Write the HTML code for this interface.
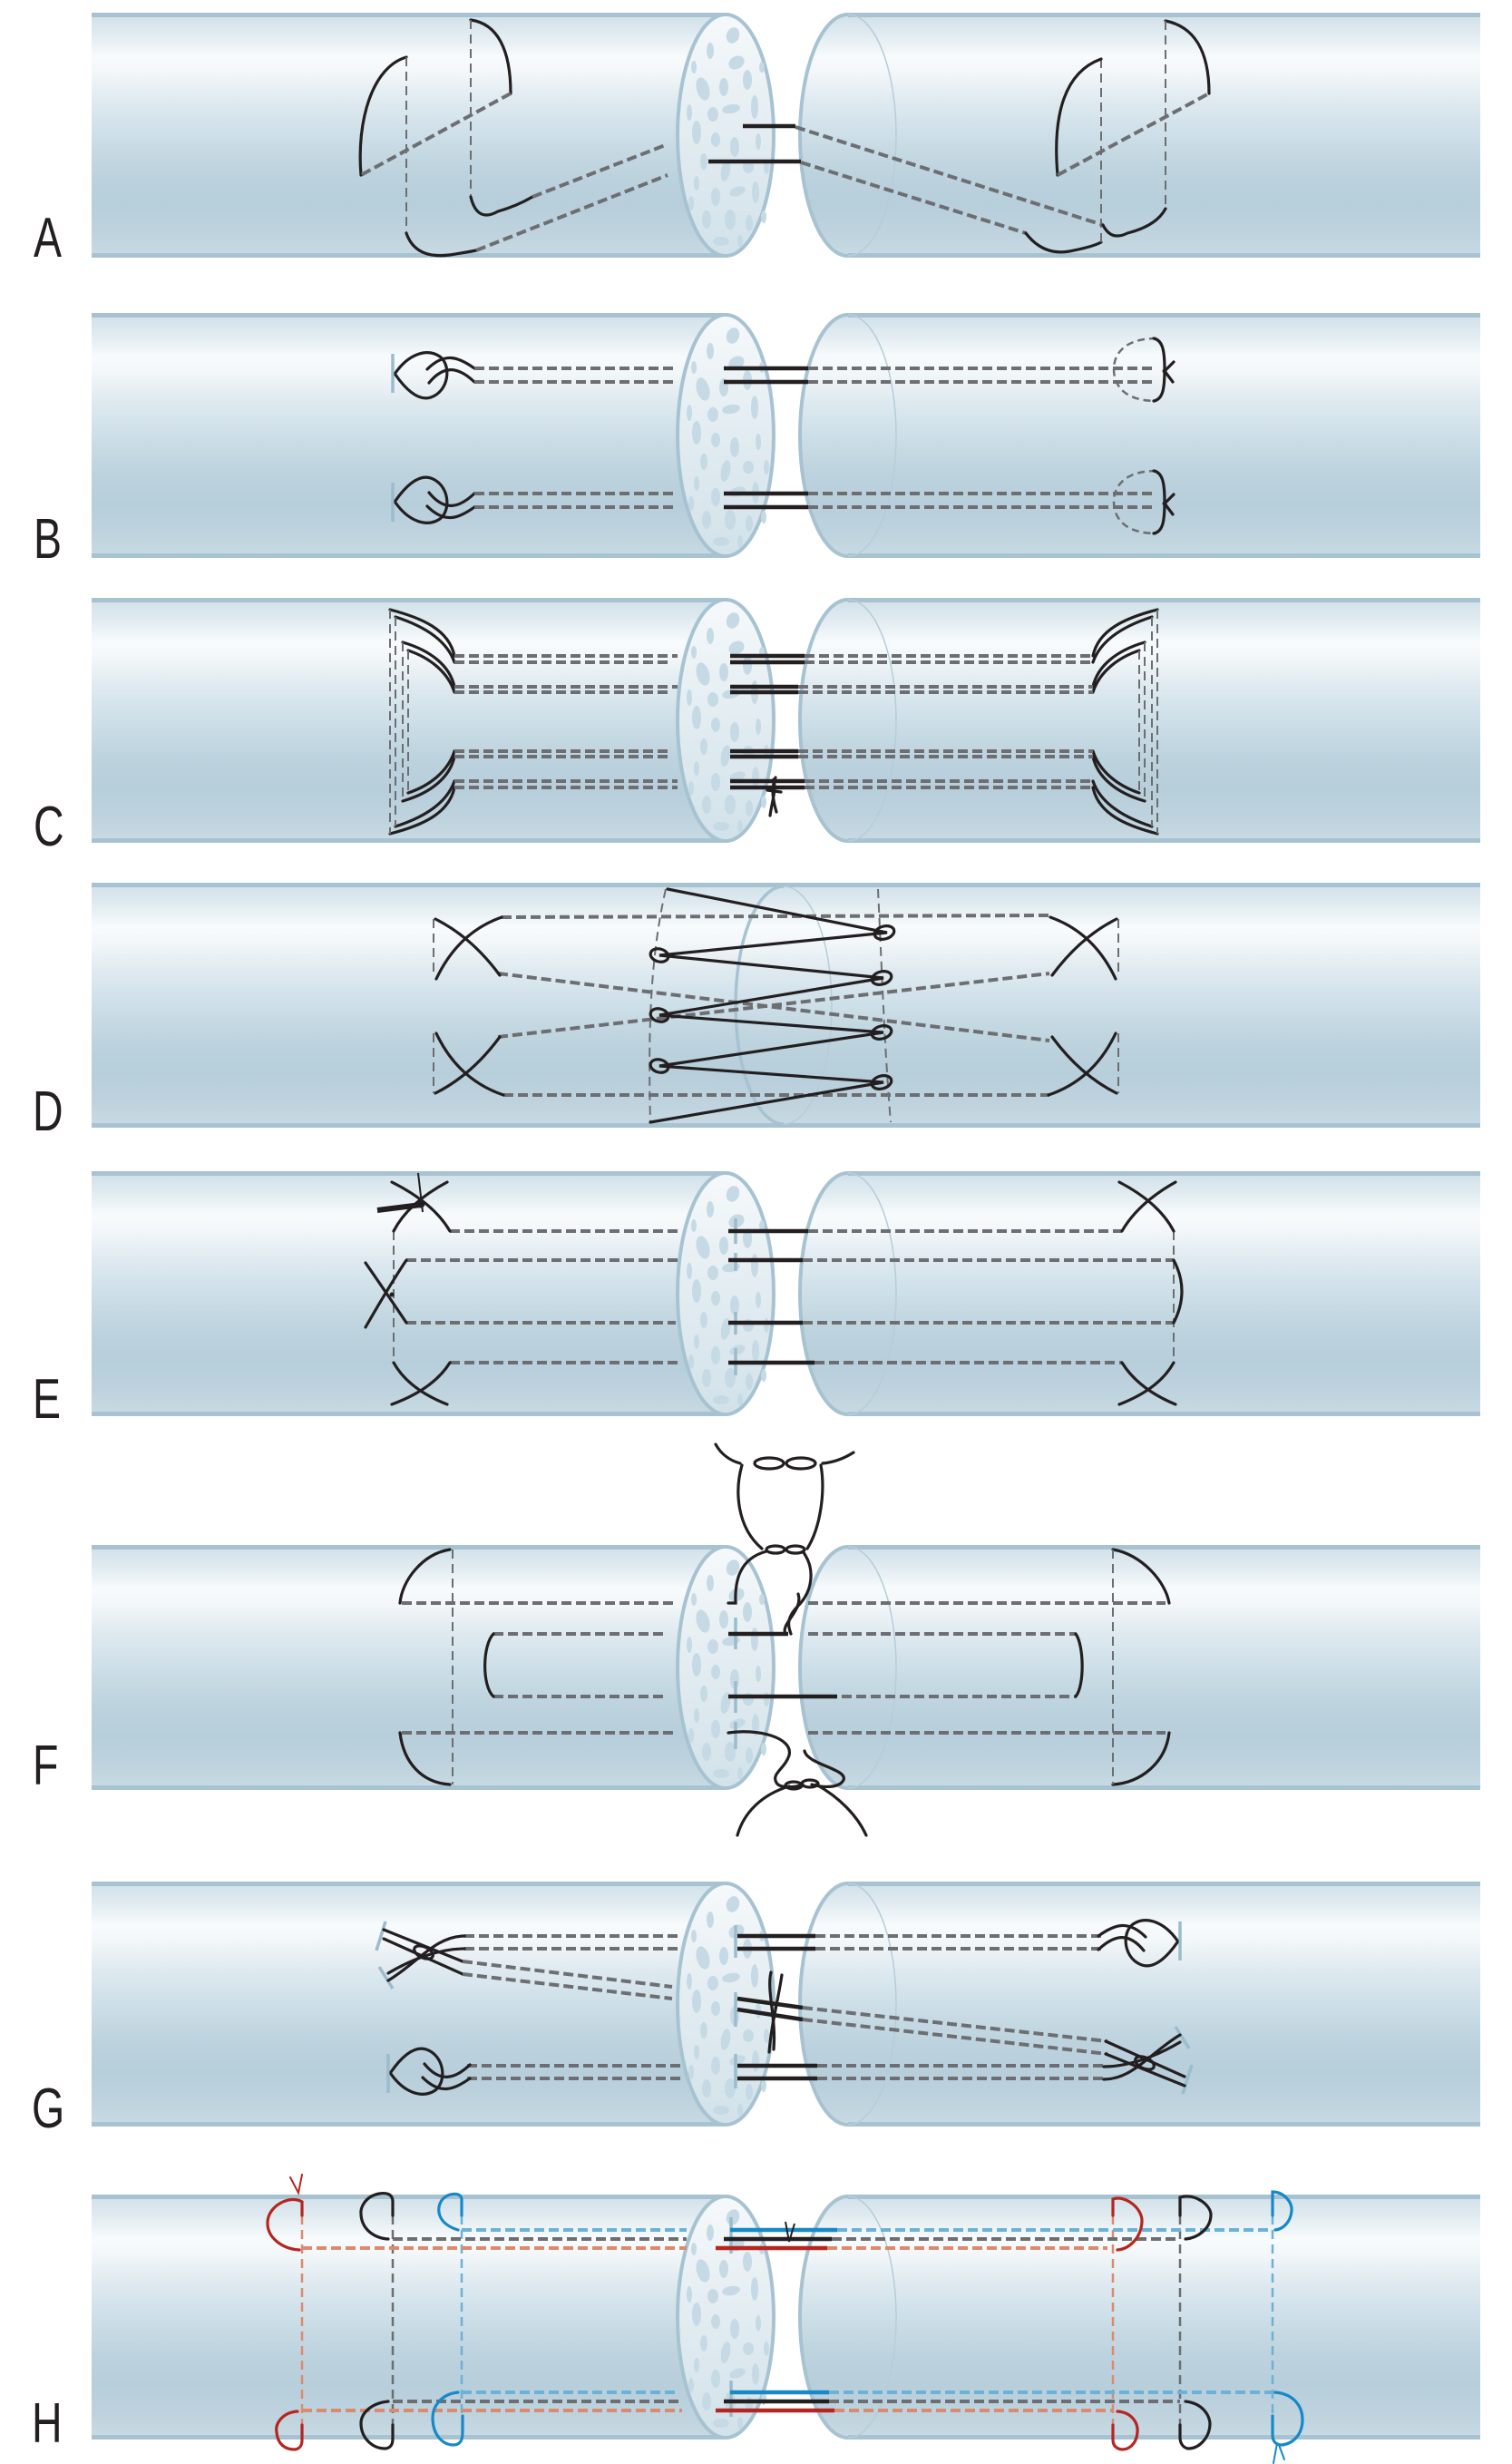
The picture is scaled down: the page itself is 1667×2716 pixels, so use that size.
<!DOCTYPE html>
<html>
<head>
<meta charset="utf-8">
<style>
  html,body{margin:0;padding:0;background:#fff;}
  body{width:1667px;height:2716px;overflow:hidden;}
  svg{display:block;}
  .s{stroke:#231f20;stroke-width:3.2;fill:none;stroke-linecap:round;}
  .sb{stroke:#231f20;stroke-width:4.5;fill:none;}
  .d{stroke:#6d6e71;stroke-width:4;stroke-dasharray:11 5;fill:none;}
  .dt{stroke:#6d6e71;stroke-width:2;stroke-dasharray:10 6;fill:none;}
  .tick{stroke:#9bbccc;stroke-width:3.5;fill:none;}
  .lbl{font-family:"Liberation Sans",sans-serif;font-size:62px;fill:#231f20;}
</style>
</head>
<body>
<svg width="1667" height="2716" viewBox="0 0 1667 2716" xmlns="http://www.w3.org/2000/svg">
<defs>
  <linearGradient id="body" x1="0" y1="0" x2="0" y2="1">
    <stop offset="0" stop-color="#cfdfe8"/>
    <stop offset="0.1" stop-color="#e3edf2"/>
    <stop offset="0.18" stop-color="#f8fbfc"/>
    <stop offset="0.24" stop-color="#f3f7f9"/>
    <stop offset="0.36" stop-color="#dfeaf0"/>
    <stop offset="0.5" stop-color="#cddfe8"/>
    <stop offset="0.65" stop-color="#bdd3de"/>
    <stop offset="0.78" stop-color="#b7cedb"/>
    <stop offset="0.9" stop-color="#bed3de"/>
    <stop offset="1" stop-color="#c9dbe4"/>
  </linearGradient>
  <linearGradient id="face" x1="0" y1="0" x2="0" y2="1">
    <stop offset="0" stop-color="#f6f9fb"/>
    <stop offset="0.5" stop-color="#e2ecf1"/>
    <stop offset="1" stop-color="#d2e2ea"/>
  </linearGradient>
  <g id="blobs" fill="#c5dae4">
    <ellipse cx="808" cy="25" rx="7" ry="9" transform="rotate(20 808 25)"/>
    <ellipse cx="783" cy="42" rx="4" ry="9"/>
    <ellipse cx="812" cy="55" rx="9" ry="7" transform="rotate(-30 812 55)"/>
    <ellipse cx="775" cy="84" rx="7" ry="13" transform="rotate(-15 775 84)"/>
    <ellipse cx="798" cy="82" rx="5" ry="10"/>
    <ellipse cx="824" cy="74" rx="5" ry="11"/>
    <ellipse cx="786" cy="112" rx="6" ry="8"/>
    <ellipse cx="806" cy="106" rx="10" ry="5" transform="rotate(-10 806 106)"/>
    <ellipse cx="832" cy="104" rx="4" ry="13"/>
    <ellipse cx="768" cy="132" rx="5" ry="13"/>
    <ellipse cx="789" cy="140" rx="5" ry="8"/>
    <ellipse cx="810" cy="148" rx="5" ry="11"/>
    <ellipse cx="836" cy="142" rx="3" ry="9"/>
    <ellipse cx="776" cy="164" rx="4" ry="9"/>
    <ellipse cx="800" cy="174" rx="5" ry="12" transform="rotate(10 800 174)"/>
    <ellipse cx="825" cy="170" rx="6" ry="7"/>
    <ellipse cx="768" cy="188" rx="3" ry="8"/>
    <ellipse cx="789" cy="203" rx="5" ry="10"/>
    <ellipse cx="813" cy="197" rx="9" ry="5" transform="rotate(-20 813 197)"/>
    <ellipse cx="833" cy="198" rx="4" ry="12"/>
    <ellipse cx="779" cy="228" rx="5" ry="10"/>
    <ellipse cx="805" cy="228" rx="6" ry="11"/>
    <ellipse cx="826" cy="232" rx="4" ry="9"/>
    <ellipse cx="795" cy="252" rx="9" ry="5"/>
    <ellipse cx="816" cy="252" rx="3" ry="7"/>
    <ellipse cx="765" cy="60" rx="3" ry="7"/>
    <ellipse cx="840" cy="60" rx="3" ry="6"/>
    <ellipse cx="760" cy="110" rx="3" ry="9"/>
    <ellipse cx="845" cy="170" rx="3" ry="8"/>
    <ellipse cx="762" cy="210" rx="3" ry="8"/>
    <ellipse cx="842" cy="225" rx="3" ry="7"/>
  </g>
  <g id="cyl">
    <rect x="101" y="0" width="700" height="270" fill="url(#body)"/>
    <rect x="101" y="0" width="700" height="5" fill="#a7c3d2"/>
    <rect x="101" y="265" width="700" height="5" fill="#a7c3d2"/>
    <path d="M935,0 H1632 V270 H935 A53,135 0 0 1 935,0 Z" fill="url(#body)"/>
    <rect x="935" y="0" width="697" height="5" fill="#a7c3d2"/>
    <rect x="935" y="265" width="697" height="5" fill="#a7c3d2"/>
    <path d="M935,268 A53,133 0 0 1 935,2" fill="none" stroke="#a7c3d2" stroke-width="4"/>
    <path d="M935,2 A53,133 0 0 1 935,268" fill="none" stroke="#b6cdd9" stroke-width="1.5"/>
    <ellipse cx="800" cy="135" rx="53" ry="133" fill="url(#face)" stroke="#a7c3d2" stroke-width="4"/>
    <use href="#blobs"/>
  </g>
  <g id="kb">
    <path class="tick" d="M433,45 V88"/>
    <path class="s" d="M436,66 C450,46 470,38 485,48 C498,58 495,86 475,93 C460,98 445,81 436,68"/>
    <path class="s" d="M523,61 C505,48 490,43 471,62"/>
    <path class="s" d="M523,76 C506,60 490,56 473,77"/>
  </g>
  <g id="rb">
    <path d="M1275,28 C1240,28 1228,45 1228,62 C1228,80 1240,97 1275,97" fill="none" stroke="#6d6e71" stroke-width="2.5" stroke-dasharray="8 5"/>
    <path class="s" d="M1272,28 C1282,30 1284,42 1284,62 C1284,84 1282,95 1272,97"/>
    <path class="s" stroke-width="2" d="M1284,64 L1294,54 M1284,64 L1293,76"/>
    <circle cx="1284" cy="64" r="2.5" fill="#231f20"/>
  </g>
  <g id="cx">
    <path class="tick" d="M425,44 L415,76 M418,94 L433,118"/>
    <path class="s" d="M423,53 L510,88 M423,63 L510,102"/>
    <path class="s" d="M428,109 C460,90 480,60 512,60"/>
    <path class="s" d="M428,101 C455,85 485,74 512,74"/>
    <ellipse cx="467" cy="78" rx="11" ry="6" transform="rotate(25 467 78)" class="s"/>
  </g>
  <g id="carcs">
    <path class="s" d="M430,13 C465,22 495,35 501,64"/>
    <path class="s" d="M436,21 C464,30 492,45 501,71"/>
    <path class="s" d="M444,49 C475,58 496,75 501,98"/>
    <path class="s" d="M450,58 C474,66 494,82 501,104"/>
  </g>
  <g id="cside">
    <use href="#carcs"/>
    <use href="#carcs" transform="translate(0,273) scale(1,-1)"/>
    <path class="dt" d="M430,13 V260 M436,21 V252 M444,49 V224 M450,58 V215"/>
  </g>
</defs>

<!-- ================= A ================= -->
<g transform="translate(0,14)">
  <use href="#cyl"/>
  <path class="s" d="M448,49 C410,60 393,120 398,179"/>
  <path class="dt" d="M448,49 V243"/>
  <path class="s" d="M448,243 Q458,272 496,267 Q515,264 525,262"/>
  <path class="d" d="M525,262 L736,179"/>
  <path class="s" d="M519,8 C548,12 563,40 563,89"/>
  <path class="d" d="M563,89 L398,179"/>
  <path class="dt" d="M519,8 V203"/>
  <path class="s" d="M519,203 Q526,232 549,219 Q570,213 587,203"/>
  <path class="d" d="M587,203 L736,145"/>
  <path class="sb" d="M819,125 H877 M781,164 H883"/>
  <path class="d" d="M877,126 L1216,234 M883,165 L1131,243"/>
  <path class="s" d="M1131,243 Q1150,268 1179,263 Q1205,258 1214,253"/>
  <path class="dt" d="M1214,51 V253"/>
  <path class="s" d="M1214,51 C1175,65 1160,110 1166,179"/>
  <path class="d" d="M1166,179 L1333,89"/>
  <path class="s" d="M1285,9 C1315,15 1333,40 1333,89"/>
  <path class="dt" d="M1285,9 V216"/>
  <path class="s" d="M1216,234 Q1225,252 1243,243 Q1275,235 1285,216"/>
</g>

<!-- ================= B ================= -->
<g transform="translate(0,345)">
  <use href="#cyl"/>
  <use href="#kb"/>
  <use href="#kb" transform="translate(0,275) scale(1,-1)"/>
  <path class="d" d="M523,61 H747 M523,76 H747 M523,199 H747 M523,214 H747"/>
  <path class="sb" d="M798,61 H891 M798,76 H891 M798,199 H891 M798,214 H891"/>
  <path class="d" d="M891,61 H1275 M891,76 H1275 M891,199 H1275 M891,214 H1275"/>
  <use href="#rb"/>
  <use href="#rb" transform="translate(0,146)"/>
</g>

<!-- ================= C ================= -->
<g transform="translate(0,659)">
  <use href="#cyl"/>
  <use href="#cside"/>
  <use href="#cside" transform="translate(1706,0) scale(-1,1)"/>
  <path class="d" d="M501,64 H747 M501,71 H740 M501,98 H747 M501,104 H740 M501,169 H740 M501,175 H740 M501,202 H747 M501,209 H747"/>
  <path class="sb" stroke-width="4" d="M805,64 H887 M805,71 H887 M805,98 H880 M805,104 H880 M805,169 H880 M805,175 H880 M805,202 H887 M805,209 H887"/>
  <path class="d" d="M887,64 H1205 M887,71 H1205 M880,98 H1205 M880,104 H1205 M880,169 H1205 M880,175 H1205 M887,202 H1205 M887,209 H1205"/>
  <path class="s" stroke-width="2" d="M849,240 C851,225 856,212 853,200 M856,236 C852,222 850,210 855,198 M846,212 L861,214"/>
</g>

<!-- ================= D ================= -->
<g transform="translate(0,973)">
  <rect x="101" y="0" width="1531" height="270" fill="url(#body)"/>
  <rect x="101" y="0" width="1531" height="5" fill="#a7c3d2"/>
  <rect x="101" y="265" width="1531" height="5" fill="#a7c3d2"/>
  <path d="M864,266 A53,131 0 0 1 864,4" fill="none" stroke="#a7c3d2" stroke-width="3.5"/>
  <path d="M864,4 A53,131 0 0 1 864,266" fill="none" stroke="#b6cdd9" stroke-width="1.5"/>
  <path class="dt" d="M734,7 C715,90 715,180 717,264"/>
  <path class="dt" d="M968,7 C972,90 975,180 982,264"/>
  <path class="d" d="M553,38 L1157,36 M555,234 H1157 M549,100 L1157,174 M549,170 L1157,100"/>
  <g id="dx">
    <path class="s" d="M480,40 Q520,60 551,102"/>
    <path class="s" d="M553,38 Q505,55 481,106"/>
    <path class="dt" d="M478,40 V104"/>
    <path class="s" d="M480,232 Q520,212 551,170"/>
    <path class="s" d="M555,234 Q505,217 481,166"/>
    <path class="dt" d="M478,166 V232"/>
  </g>
  <use href="#dx" transform="translate(1711,0) scale(-1,1)"/>
  <path class="s" stroke-width="4" d="M736,7 L978,55 L727,80 L974,105 L727,146 L974,165 L727,202 L974,220 L717,264"/>
  <g class="s" stroke-width="3">
    <ellipse cx="975" cy="55" rx="11" ry="7" transform="rotate(-15 975 55)"/>
    <ellipse cx="727" cy="80" rx="10" ry="7" transform="rotate(15 727 80)"/>
    <ellipse cx="972" cy="105" rx="11" ry="7" transform="rotate(-15 972 105)"/>
    <ellipse cx="727" cy="146" rx="10" ry="7" transform="rotate(15 727 146)"/>
    <ellipse cx="972" cy="165" rx="11" ry="7" transform="rotate(-15 972 165)"/>
    <ellipse cx="727" cy="202" rx="10" ry="7" transform="rotate(15 727 202)"/>
    <ellipse cx="972" cy="220" rx="11" ry="7" transform="rotate(-15 972 220)"/>
  </g>
</g>

<!-- ================= E ================= -->
<g transform="translate(0,1291)">
  <use href="#cyl"/>
  <path class="tick" d="M811,52 V80 M811,90 V110 M811,155 V180 M811,195 V225"/>
  <path class="d" d="M496,66 H747 M448,98 H747 M448,167 H745 M496,211 H750"/>
  <path class="sb" d="M803,66 H891 M803,98 H885 M803,167 H885 M803,211 H898"/>
  <path class="d" d="M891,66 H1237 M885,98 H1294 M885,167 H1294 M898,211 H1237"/>
  <path class="dt" d="M434,66 V211 M1294,66 V211"/>
  <path class="s" d="M434,66 Q450,35 493,12 M496,66 Q478,35 432,12"/>
  <path d="M416,43 L464,37" stroke="#231f20" stroke-width="6" fill="none"/>
  <path d="M461,2 L466,45" stroke="#231f20" stroke-width="2" fill="none"/>
  <circle cx="464" cy="36" r="4.5" fill="#231f20"/>
  <path class="s" d="M448,98 Q430,125 403,172 M403,101 Q430,140 448,167"/>
  <circle cx="432" cy="136" r="2.5" fill="#231f20"/>
  <path class="s" d="M434,211 Q450,240 493,257 M496,211 Q478,240 432,257"/>
  <path class="s" d="M1294,66 Q1278,35 1234,12 M1237,66 Q1255,35 1296,12"/>
  <path class="s" d="M1294,98 Q1312,132 1294,167"/>
  <path class="s" d="M1294,211 Q1278,240 1234,257 M1237,211 Q1255,240 1296,257"/>
</g>

<!-- ================= F ================= -->
<g transform="translate(0,1703)">
  <use href="#cyl"/>
  <path class="tick" d="M811,80 V115 M811,150 V185 M811,195 V225"/>
  <path class="d" d="M443,64 H747 M544,98 H736 M544,167 H736 M443,207 H747"/>
  <path class="sb" d="M803,98 H869 M803,167 H923"/>
  <path class="d" d="M891,64 H1285 M891,98 H1186 M928,167 H1186 M891,207 H1285"/>
  <path class="s" d="M496,5 C465,10 443,40 441,64"/>
  <path class="s" d="M441,207 C445,240 465,262 496,264"/>
  <path class="dt" d="M499,5 V264"/>
  <path class="s" d="M544,98 C532,110 531,155 544,167"/>
  <path class="s" d="M1227,5 C1258,10 1285,40 1289,64"/>
  <path class="s" d="M1289,207 C1285,240 1258,262 1227,264"/>
  <path class="dt" d="M1227,5 V264"/>
  <path class="s" d="M1186,98 C1195,110 1196,155 1186,167"/>
  <!-- top loop -->
  <g class="s" stroke-width="2.8">
    <path d="M789,-111 C795,-100 805,-93 816,-90"/>
    <path d="M941,-102 C930,-95 918,-91 907,-90"/>
    <ellipse cx="848" cy="-90" rx="16" ry="6"/>
    <ellipse cx="883" cy="-90" rx="16" ry="6"/>
    <path d="M818,-88 C810,-60 812,-20 840,4"/>
    <path d="M905,-88 C910,-60 905,-20 890,4"/>
    <ellipse cx="855" cy="5" rx="10" ry="4"/>
    <ellipse cx="877" cy="5" rx="10" ry="4"/>
    <path d="M845,7 C815,15 810,40 811,64 L803,64"/>
    <path d="M885,7 C900,27 895,52 880,67 C865,82 870,92 872,98"/>
    <path d="M880,54 C886,72 860,87 866,98"/>
    <!-- bottom loop -->
    <path d="M803,207 C835,202 875,212 870,232 C865,247 850,252 856,262 C860,269 878,267 885,264"/>
    <path d="M887,227 C890,242 935,247 930,259 C925,269 905,267 895,264"/>
    <ellipse cx="875" cy="265" rx="9" ry="4"/>
    <ellipse cx="893" cy="263" rx="9" ry="4"/>
    <path d="M870,266 C840,275 820,295 813,320"/>
    <path d="M900,264 C925,278 945,298 955,320"/>
  </g>
</g>

<!-- ================= G ================= -->
<g transform="translate(0,2074)">
  <use href="#cyl"/>
  <path class="tick" d="M811,48 V84 M811,122 V160 M811,190 V228"/>
  <path class="d" d="M512,60 H747 M512,74 H747"/>
  <path class="sb" d="M813,60 H899 M813,74 H899"/>
  <path class="d" d="M899,60 H1216 M899,74 H1216"/>
  <use href="#kb" transform="translate(1734,-1) scale(-1,1)"/>
  <use href="#cx"/>
  <path class="d" d="M510,88 L741,116 M510,102 L741,129"/>
  <path class="sb" d="M813,129 L885,139 M813,141 L885,152"/>
  <path class="d" d="M885,139 L1221,176 M885,152 L1221,190"/>
  <path class="s" stroke-width="2" d="M848,188 C850,160 858,130 862,103 M853,185 C856,150 845,120 850,100"/>
  <path class="d" d="M515,203 H752 M515,217 H752"/>
  <path class="sb" d="M813,203 H901 M813,217 H901"/>
  <path class="d" d="M901,203 H1221 M901,217 H1221"/>
  <use href="#kb" transform="translate(-5,278) scale(1,-1)"/>
  <use href="#cx" transform="translate(1729,278) scale(-1,-1)"/>
</g>

<!-- ================= H ================= -->
<g transform="translate(0,2419)">
  <use href="#cyl"/>
  <path class="tick" d="M806,25 V65 M806,205 V245"/>
  <g fill="none" stroke-width="2.5" stroke-dasharray="10 6">
    <path d="M333,23 V254 M1227,23 V254" stroke="#dc8a6e"/>
    <path d="M433,23 V254 M1301,23 V254" stroke="#6d6e71"/>
    <path d="M509,23 V244 M1403,23 V244" stroke="#6cb1d6"/>
  </g>
  <g fill="none" stroke-width="4" stroke-dasharray="11 5">
    <path d="M509,39 H757 M923,39 H1403 M509,218 H747 M914,218 H1406" stroke="#6cb1d6"/>
    <path d="M433,49 H757 M917,49 H1301 M433,228 H752 M914,228 H1301" stroke="#6d6e71"/>
    <path d="M333,59 H757 M912,59 H1221 M333,238 H752 M920,238 H1227" stroke="#dc8a6e"/>
  </g>
  <path d="M805,39 H923 M805,218 H914" stroke="#1689c9" stroke-width="4.5" fill="none"/>
  <path d="M798,49 H917 M798,228 H914" stroke="#231f20" stroke-width="4.5" fill="none"/>
  <path d="M789,59 H912 M789,238 H920" stroke="#b6251f" stroke-width="4.5" fill="none"/>
  <path d="M866,30 L870,52 L876,32" stroke="#231f20" stroke-width="2" fill="none"/>
  <g fill="none" stroke-width="3.2" stroke-linecap="round">
    <path d="M333,23 L333,8 C320,0 296,12 295,30 C294,48 312,60 330,61" stroke="#b6251f"/>
    <path d="M320,-19 L329,-2 L333,-22" stroke="#b6251f" stroke-width="2"/>
    <path d="M433,23 L433,8 C433,-2 424,-2 418,-1 C402,2 397,15 398,22 C399,38 412,48 428,49" stroke="#231f20"/>
    <path d="M509,23 L509,5 C508,-3 495,-2 488,5 C480,15 482,32 505,39" stroke="#1689c9"/>
    <path d="M328,239 C312,240 303,252 305,262 C306,275 314,281 325,281 C332,280 333,275 333,270 L333,254" stroke="#b6251f"/>
    <path d="M428,228 C408,230 398,242 398,252 C398,268 410,280 425,280 C433,279 433,272 433,268 L433,254" stroke="#231f20"/>
    <path d="M505,218 C485,220 477,235 477,246 C477,265 488,276 500,276 C508,276 510,270 510,262 L510,244" stroke="#1689c9"/>
    <path d="M1227,23 L1227,5 C1240,0 1260,15 1259,30 C1258,48 1245,60 1232,61" stroke="#b6251f"/>
    <path d="M1301,23 L1301,3 C1318,-2 1335,12 1335,22 C1335,38 1320,48 1307,49" stroke="#231f20"/>
    <path d="M1403,23 L1403,-3 C1415,-3 1425,8 1424,18 C1423,30 1415,38 1406,39" stroke="#1689c9"/>
    <path d="M1406,218 C1428,220 1436,235 1436,248 C1436,265 1425,275 1413,276 C1405,276 1403,270 1403,265 L1403,244" stroke="#1689c9"/>
    <path d="M1408,274 L1404,296 M1410,276 L1416,292" stroke="#1689c9" stroke-width="2"/>
    <path d="M1307,228 C1325,230 1333,242 1334,252 C1334,268 1322,280 1310,280 C1303,279 1301,272 1301,268 L1301,254" stroke="#231f20"/>
    <path d="M1232,239 C1248,240 1255,252 1254,262 C1253,275 1245,281 1237,281 C1229,280 1227,275 1227,270 L1227,254" stroke="#b6251f"/>
  </g>
</g>

<!-- ================= Labels ================= -->
<text class="lbl" transform="translate(37,283) scale(0.75,1)">A</text>
<text class="lbl" transform="translate(37,615) scale(0.75,1)">B</text>
<text class="lbl" transform="translate(37,932) scale(0.75,1)">C</text>
<text class="lbl" transform="translate(36,1246) scale(0.75,1)">D</text>
<text class="lbl" transform="translate(36,1563) scale(0.75,1)">E</text>
<text class="lbl" transform="translate(36,1967) scale(0.75,1)">F</text>
<text class="lbl" transform="translate(35,2345) scale(0.75,1)">G</text>
<text class="lbl" transform="translate(35,2692) scale(0.75,1)">H</text>
</svg>
</body>
</html>
